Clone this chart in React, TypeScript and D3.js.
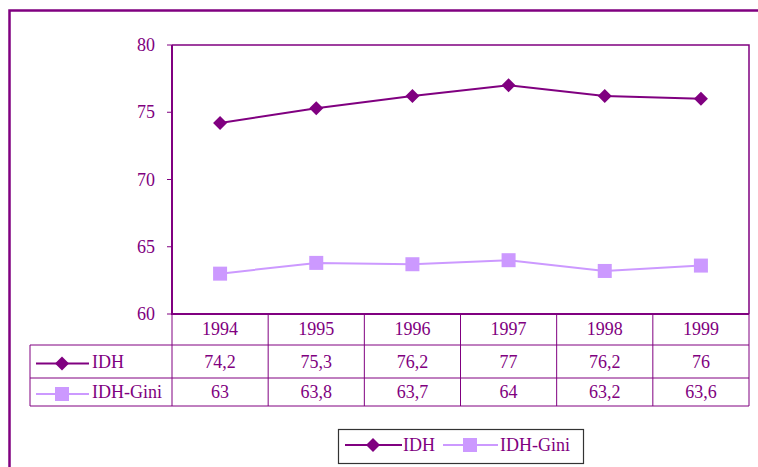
import React from 'react';
import * as d3 from 'd3';

const years = ['1994', '1995', '1996', '1997', '1998', '1999'];
const idh = [74.2, 75.3, 76.2, 77, 76.2, 76];
const idhGini = [63, 63.8, 63.7, 64, 63.2, 63.6];
const yTicks = [60, 65, 70, 75, 80];

const width = 758;
const height = 467;
const plot = { left: 172, right: 749, top: 45, bottom: 314 };
const rows = { header: 345, idh: 378, gini: 406, labelLeft: 30 };
const purple = '#800080';
const lilac = '#CC99FF';
const txt: React.CSSProperties = { fontFamily: '"Liberation Serif"' };

const fmt = (v: number) => String(v).replace('.', ',');

const Diamond: React.FC<{ x: number; y: number; r?: number }> = ({ x, y, r = 7 }) => (
  <path d={`M${x},${y - r}L${x + r},${y}L${x},${y + r}L${x - r},${y}Z`} fill={purple} />
);

const Square: React.FC<{ x: number; y: number; s?: number }> = ({ x, y, s = 14 }) => (
  <rect x={x - s / 2} y={y - s / 2} width={s} height={s} fill={lilac} />
);

export default function App() {
  const x = d3.scaleBand<string>().domain(years).range([plot.left, plot.right]);
  const y = d3.scaleLinear().domain([60, 80]).range([plot.bottom, plot.top]);
  const cx = (d: string) => (x(d) ?? 0) + x.bandwidth() / 2;

  const line = d3
    .line<number>()
    .x((_, i) => cx(years[i]))
    .y((v) => y(v));

  const idhRowY = (rows.header + rows.idh) / 2;
  const giniRowY = (rows.idh + rows.gini) / 2;

  return (
    <svg width={width} height={height} style={{ position: 'absolute', left: 0, top: 0 }}>
      <rect x={0} y={0} width={width} height={height} fill="#fff" />
      {/* outer frame */}
      <path d={`M9.5,${height + 5}V10.5H${width + 5}`} fill="none" stroke={purple} strokeWidth={2.5} />

      {/* plot frame */}
      <path
        d={`M${plot.left},${plot.top}H${plot.right}V${plot.bottom}`}
        fill="none"
        stroke={purple}
        strokeWidth={1.5}
      />
      <path d={`M${plot.left},${plot.top}V${plot.bottom}H${plot.right}`} fill="none" stroke={purple} strokeWidth={2} />

      {/* y axis ticks */}
      {yTicks.map((t) => (
        <g key={t}>
          <line x1={plot.left - 5} x2={plot.left} y1={y(t)} y2={y(t)} stroke={purple} strokeWidth={1} />
          <text x={155} y={y(t) + 6} textAnchor="end" fontSize={18} fill={purple} style={txt}>
            {t}
          </text>
        </g>
      ))}

      {/* series */}
      <path d={line(idhGini) ?? ''} fill="none" stroke={lilac} strokeWidth={2} />
      <path d={line(idh) ?? ''} fill="none" stroke={purple} strokeWidth={2} />
      {idhGini.map((v, i) => (
        <Square key={`g-${i}`} x={cx(years[i])} y={y(v)} />
      ))}
      {idh.map((v, i) => (
        <Diamond key={`i-${i}`} x={cx(years[i])} y={y(v)} />
      ))}

      {/* data table */}
      <g stroke={purple} strokeWidth={1} fill="none">
        {years.map((d) => (
          <line key={d} x1={x(d)} x2={x(d)} y1={plot.bottom} y2={rows.gini} />
        ))}
        <line x1={plot.right} x2={plot.right} y1={plot.bottom} y2={rows.gini} />
        <line x1={rows.labelLeft} x2={rows.labelLeft} y1={rows.header} y2={rows.gini} />
        <line x1={rows.labelLeft} x2={plot.right} y1={rows.header} y2={rows.header} />
        <line x1={rows.labelLeft} x2={plot.right} y1={rows.idh} y2={rows.idh} />
        <line x1={rows.labelLeft} x2={plot.right} y1={rows.gini} y2={rows.gini} />
      </g>
      {years.map((d, i) => (
        <g key={`t-${d}`} fontSize={18} fill={purple} textAnchor="middle" style={txt}>
          <text x={cx(d)} y={335} style={txt}>
            {d}
          </text>
          <text x={cx(d)} y={368} style={txt}>
            {fmt(idh[i])}
          </text>
          <text x={cx(d)} y={398} style={txt}>
            {fmt(idhGini[i])}
          </text>
        </g>
      ))}
      {/* row labels */}
      <line x1={36} x2={89} y1={idhRowY + 2} y2={idhRowY + 2} stroke={purple} strokeWidth={2} />
      <Diamond x={62} y={idhRowY + 2} />
      <text x={92} y={368} fontSize={18} fill={purple} style={txt}>
        IDH
      </text>
      <line x1={36} x2={89} y1={giniRowY + 2} y2={giniRowY + 2} stroke={lilac} strokeWidth={2} />
      <Square x={62} y={giniRowY + 2} />
      <text x={92} y={398} fontSize={18} fill={purple} style={txt}>
        IDH-Gini
      </text>

      {/* legend */}
      <rect x={338.5} y={429.5} width={245} height={34} fill="#fff" stroke="#333" strokeWidth={1.2} />
      <line x1={345} x2={402} y1={445} y2={445} stroke={purple} strokeWidth={2} />
      <Diamond x={373} y={445} />
      <text x={403} y={451} fontSize={18} fill={purple} style={txt}>
        IDH
      </text>
      <line x1={443} x2={498} y1={445} y2={445} stroke={lilac} strokeWidth={2} />
      <Square x={470} y={445} />
      <text x={500} y={451} fontSize={18} fill={purple} style={txt}>
        IDH-Gini
      </text>
    </svg>
  );
}
